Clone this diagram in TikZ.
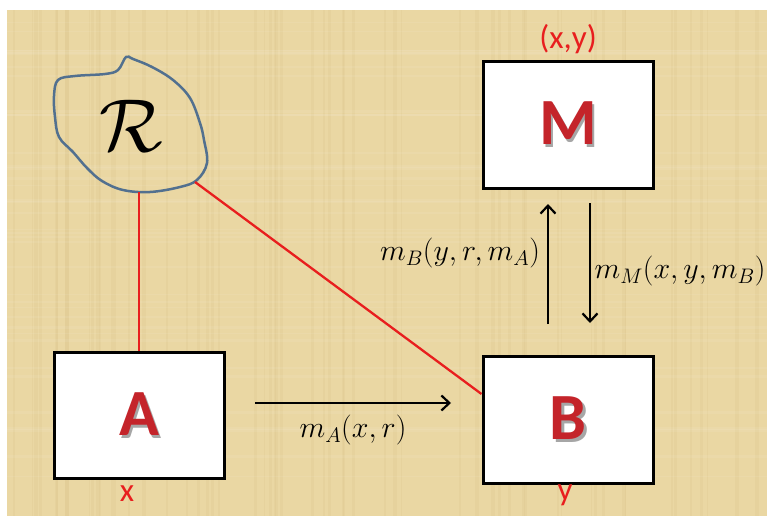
\RequirePackage{fix-cm}
\documentclass[tikz,border=0pt]{standalone}
\usepackage{fontspec}
\newfontfamily\calibri{Carlito}
\usetikzlibrary{arrows.meta, positioning, calc}

\definecolor{parchment}{RGB}{234,215,163}
\definecolor{streak}{RGB}{214,190,130}
\definecolor{blobblue}{RGB}{82,112,143}
\definecolor{letterred}{RGB}{196,36,42}
\definecolor{labelred}{RGB}{232,30,30}

% letter with a soft drop shadow
\newcommand{\shadowed}[1]{\makebox[0pt][l]{\hspace{2.5pt}\raisebox{-3pt}{\color{black!35}#1}}#1}

\begin{document}
\begin{tikzpicture}[x=1pt, y=-1pt,
    box/.style={draw, line width=3pt, fill=white, minimum width=170pt, minimum height=126pt, inner sep=0pt},
    letter/.style={font=\calibri\bfseries\fontsize{66}{66}\selectfont, text=letterred, inner sep=0pt},
    varlabel/.style={font=\calibri\fontsize{33}{34}\selectfont, text=labelred, inner sep=0pt},
    msg/.style={font=\fontsize{30}{32}\selectfont, inner sep=0pt},
    flow/.style={line width=2.2pt, -{Straight Barb[length=8pt, width=15pt, line width=2.2pt]}},
    link/.style={line width=2.3pt, labelred}]
% Page and parchment
\useasboundingbox (0,0) rectangle (767,516);
\fill[white] (0,0) rectangle (767,516);
\fill[parchment] (7,10) rectangle (767,516);
% Parchment streaks
\pgfmathsetseed{7}
\foreach \i in {1,...,60} {
    \pgfmathsetmacro{\sx}{10+757*rnd}
    \pgfmathsetmacro{\sw}{1+3*rnd}
    \fill[streak, opacity=0.18] (\sx,10) rectangle ({\sx+\sw},516);
}
\foreach \i in {1,...,40} {
    \pgfmathsetmacro{\sy}{12+500*rnd}
    \pgfmathsetmacro{\sw}{1+2*rnd}
    \fill[white, opacity=0.07] (7,\sy) rectangle (767,{\sy+\sw});
}
% Boxes
\node[box] (A) at (139,415.5) {};
\node[box, minimum height=127pt] (B) at (568,420) {};
\node[box] (M) at (568,125) {};
\foreach \n in {A,B,M} {
    \node[letter] (\n letter) at (\n.center) {\shadowed{\n}};
}
% Randomness blob
\draw[blobblue, line width=2.5pt] plot[smooth cycle, tension=0.6] coordinates {
    (126,57) (118,70) (105,74) (75,76) (58,80) (54,96) (55,117) (59,137)
    (73,152) (87,168) (102,181) (123,190) (150,192) (180,187) (197,180)
    (207,163) (204,140) (200,123) (190,98) (173,80) (152,67) (133,59)};
\node[font=\fontsize{75}{75}\selectfont, inner sep=0pt] (R) at (131,126) {$\mathcal{R}$};
\coordinate (Rbot) at (139,192);
\coordinate (Rside) at (195,182);
% Shared randomness
\draw[link] (Rbot) -- (A.north);
\draw[link] (Rside) -- ([yshift=-39pt]B.north west);
% Inputs
\node[varlabel] (x) at (127,494) {x};
\node[varlabel] (y) at (565,495) {y};
\node[varlabel] (xy) at (568,39) {(x,y)};
% Messages
\coordinate (ab1) at (255,403);
\coordinate (ab2) at (451,403);
\draw[flow] (ab1) -- (ab2);
\node[msg] (mA) at (353,430) {$m_A(x,r)$};
\coordinate (bm1) at (548,324);
\coordinate (bm2) at (548,204);
\draw[flow] (bm1) -- (bm2);
\node[msg] (mB) at (460,253) {$m_B(y,r,m_A)$};
\coordinate (mb1) at (590,203);
\coordinate (mb2) at (590,323);
\draw[flow] (mb1) -- (mb2);
\node[msg] (mM) at (680,271) {$m_M(x,y,m_B)$};
\end{tikzpicture}
\end{document}
